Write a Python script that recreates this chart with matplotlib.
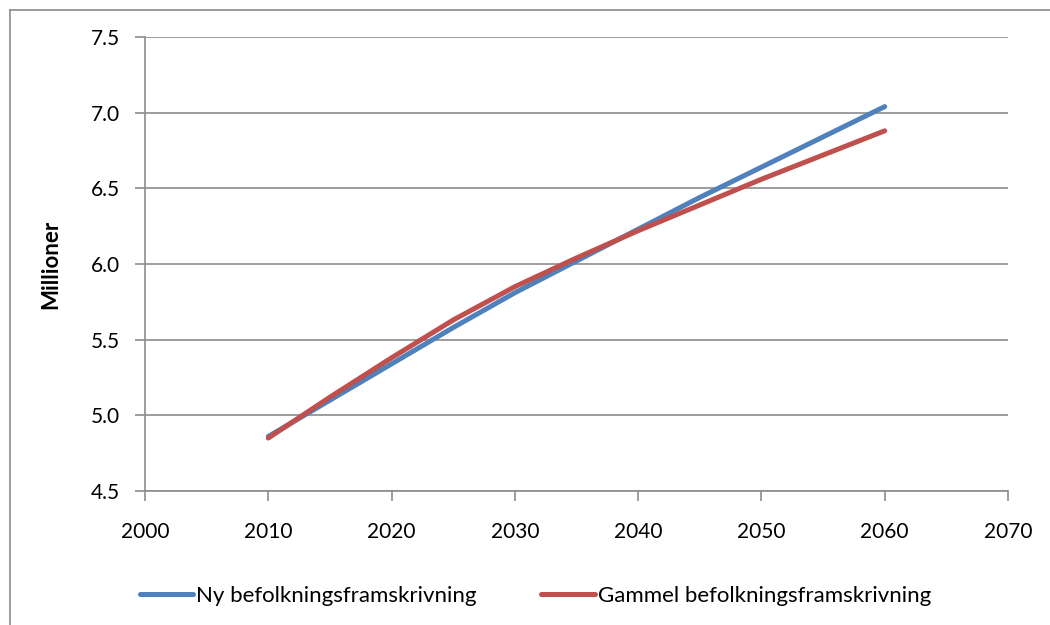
import matplotlib
matplotlib.use("Agg")
import matplotlib.pyplot as plt
from matplotlib.lines import Line2D

plt.rcParams['font.family'] = ['Lato', 'DejaVu Sans']

years = [2010, 2015, 2020, 2025, 2030, 2035, 2040, 2045, 2050, 2055, 2060]
ny = [4.86, 5.10, 5.34, 5.58, 5.81, 6.02, 6.23, 6.44, 6.64, 6.84, 7.04]
gammel = [4.85, 5.12, 5.38, 5.63, 5.85, 6.04, 6.22, 6.39, 6.56, 6.72, 6.88]
labels = ["Ny befolkningsframskrivning", "Gammel befolkningsframskrivning"]
colors = ["#4F81BD", "#C0504D"]

x_ticks = [2000, 2010, 2020, 2030, 2040, 2050, 2060, 2070]
y_ticks = [4.5, 5.0, 5.5, 6.0, 6.5, 7.0, 7.5]

fig = plt.figure(figsize=(10.5, 6.25), dpi=100)
ax = fig.add_axes([145 / 1050, 1 - 491 / 625, (1008 - 145) / 1050, (491 - 37) / 625])

grid_col = "#8c8c8c"
for series, col, lab in zip([ny, gammel], colors, labels):
    ax.plot(years, series, color=col, lw=3.6, solid_capstyle="round",
            solid_joinstyle="round", label=lab, zorder=3)

ax.set_xlim(2000, 2070)
ax.set_ylim(4.5, 7.5)
ax.set_xticks(x_ticks)
ax.set_yticks(y_ticks)
ax.set_yticklabels([f"{v:.1f}" for v in y_ticks])
ax.yaxis.grid(True, color=grid_col, lw=1.2)
ax.set_axisbelow(True)

for side in ["top", "right"]:
    ax.spines[side].set_visible(False)
for side in ["left", "bottom"]:
    ax.spines[side].set_color(grid_col)
    ax.spines[side].set_linewidth(1.2)

ax.tick_params(axis="both", direction="out", color=grid_col, width=1.2,
               length=7, labelsize=15, labelcolor="black")
ax.tick_params(axis="x", pad=15)
ax.tick_params(axis="y", pad=11)

ax.set_ylabel("Millioner", fontsize=16, fontweight="bold")
ax.yaxis.set_label_coords(-0.097, 0.5)

fig.legend(loc="center", bbox_to_anchor=(0.51, 1 - 596 / 625), ncol=2,
           frameon=False, fontsize=16, handlelength=2.4, handletextpad=0.15,
           columnspacing=2.9)

# outer frame along the top and left edges
fig.add_artist(Line2D([10 / 1050, 1.0], [1 - 10 / 625, 1 - 10 / 625],
                      transform=fig.transFigure, color=grid_col, lw=1.2))
fig.add_artist(Line2D([10 / 1050, 10 / 1050], [0.0, 1 - 10 / 625],
                      transform=fig.transFigure, color=grid_col, lw=1.2))

fig.savefig("out.png", dpi=100)
